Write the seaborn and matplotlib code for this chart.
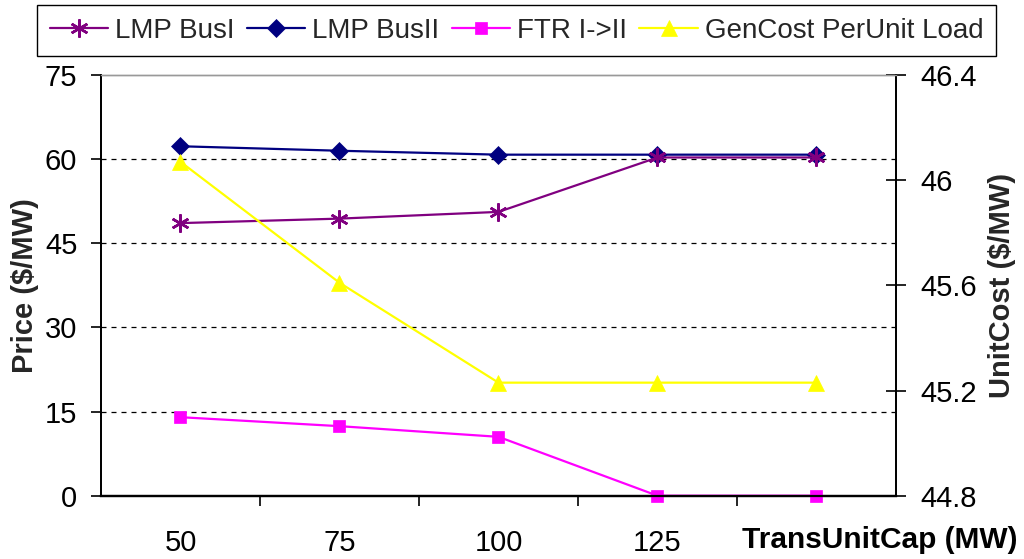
import numpy as np
import pandas as pd
import matplotlib
matplotlib.use("Agg")
import matplotlib.pyplot as plt
import seaborn as sns

# Transmission unit capacity (MW) and results per case
capacities = [50, 75, 100, 125, 150]
# the last category label sits underneath the axis title
x_tick_labels = ["50", "75", "100", "125", ""]
lmp_bus1 = [48.6, 49.4, 50.6, 60.3, 60.3]
lmp_bus2 = [62.3, 61.5, 60.8, 60.8, 60.8]
ftr_1_to_2 = [14.0, 12.4, 10.5, 0.0, 0.0]
gen_cost_per_unit = [46.07, 45.61, 45.23, 45.23, 45.23]

price_ticks = [0, 15, 30, 45, 60, 75]
cost_ticks = [44.8, 45.2, 45.6, 46.0, 46.4]
cost_tick_labels = ["44.8", "45.2", "45.6", "46", "46.4"]

sns.set_theme(style="white")
plt.rcParams["font.family"] = ["Liberation Sans", "DejaVu Sans"]

fig = plt.figure(figsize=(10.24, 5.59), dpi=100)
ax = fig.add_axes([0.0986, 0.1132, 0.7764, 0.7526])
ax2 = ax.twinx()

pos = np.arange(len(capacities))
df = pd.DataFrame({
    "pos": pos,
    "bus1": lmp_bus1,
    "bus2": lmp_bus2,
    "ftr": ftr_1_to_2,
    "cost": gen_cost_per_unit,
})

line_kw = dict(linewidth=1.6, sort=False)
sns.lineplot(data=df, x="pos", y="bus1", ax=ax, color="#800080",
             marker=(6, 2, 0), markersize=13, markeredgewidth=1.8,
             markeredgecolor="#800080", label="LMP BusI", zorder=4, **line_kw)
sns.lineplot(data=df, x="pos", y="bus2", ax=ax, color="#000080",
             marker="D", markersize=9, markeredgewidth=0.5,
             markeredgecolor="#000080", label="LMP BusII", zorder=3, **line_kw)
sns.lineplot(data=df, x="pos", y="ftr", ax=ax, color="#FF00FF",
             marker="s", markersize=9, markeredgewidth=0.5,
             markeredgecolor="#FF00FF", label="FTR I->II", zorder=5,
             clip_on=False, **line_kw)
sns.lineplot(data=df, x="pos", y="cost", ax=ax2, color="#FFFF00",
             marker="^", markersize=11, markeredgewidth=0.5,
             markeredgecolor="#FFFF00", label="GenCost PerUnit Load", **line_kw)

# Left axis: price
ax.set_xlim(-0.5, len(capacities) - 0.5)
ax.set_ylim(price_ticks[0], price_ticks[-1])
ax.set_yticks(price_ticks)
ax.set_xticks(pos)
ax.set_xticklabels(x_tick_labels)
ax.set_xticks(pos[:-1] + 0.5, minor=True)
ax.tick_params(axis="x", which="major", length=0, pad=24, labelsize=21, colors="black")
ax.tick_params(axis="x", which="minor", bottom=True, length=7, width=1.2,
               direction="out", color="black")
ax.tick_params(axis="y", left=True, length=7, width=1.2, direction="out",
               labelsize=21, pad=10, colors="black")

ax.grid(axis="y", linestyle=(0, (4, 4)), color="black", linewidth=0.9)
ax.yaxis.get_gridlines()[-1].set_visible(False)
ax.yaxis.get_gridlines()[0].set_visible(False)

ax.set_xlabel("")
ax.set_ylabel("Price ($/MW)", fontsize=21, fontweight="bold", labelpad=4)

# Right axis: generation cost per unit load
ax2.set_ylim(cost_ticks[0], cost_ticks[-1])
ax2.set_yticks(cost_ticks)
ax2.set_yticklabels(cost_tick_labels)
ax2.tick_params(axis="y", right=True, length=15, width=1.2, direction="inout",
                labelsize=21, pad=10, colors="black")
ax2.set_ylabel("UnitCost ($/MW)", fontsize=21, fontweight="bold", labelpad=8)

for a in (ax, ax2):
    a.spines["left"].set_color("black")
    a.spines["left"].set_linewidth(1.3)
    a.spines["right"].set_color("black")
    a.spines["right"].set_linewidth(1.3)
    a.spines["bottom"].set_color("black")
    a.spines["bottom"].set_linewidth(1.6)
    a.spines["top"].set_color("#999999")
    a.spines["top"].set_linewidth(1.0)

# Horizontal axis title sits in the lower right corner
fig.text(0.994, 1 - 540 / 559, "TransUnitCap (MW)", ha="right", va="center",
         fontsize=21.5, fontweight="bold", color="black")

# Shared legend across the top
h1, l1 = ax.get_legend_handles_labels()
h2, l2 = ax2.get_legend_handles_labels()
for a in (ax, ax2):
    if a.get_legend() is not None:
        a.get_legend().remove()
leg = fig.legend(h1 + h2, l1 + l2, loc="upper left",
                 bbox_to_anchor=(37 / 1024, 1 - 5 / 559), ncol=4,
                 fontsize=20, frameon=True, fancybox=False, framealpha=1,
                 edgecolor="black", handlelength=2.1, handletextpad=0.25,
                 columnspacing=0.45, borderpad=0.45, borderaxespad=0)
leg.get_frame().set_linewidth(1.0)

fig.savefig("out.png", dpi=100, facecolor="white")
